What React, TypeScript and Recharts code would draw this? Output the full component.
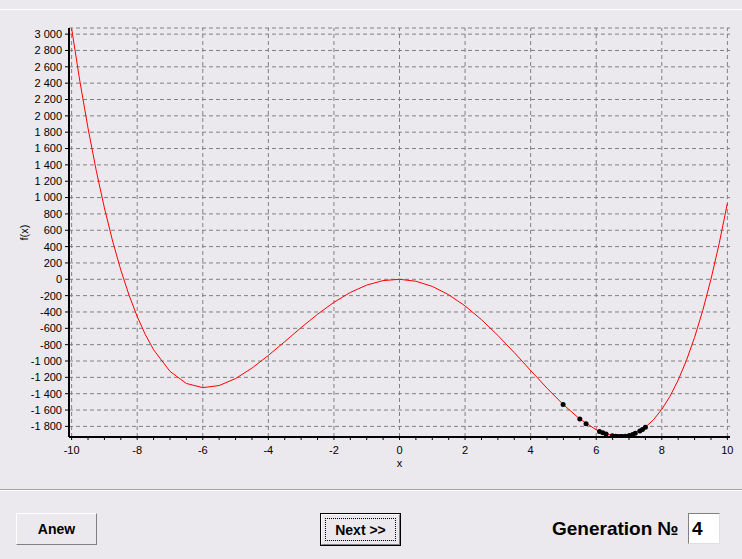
import React from 'react';
import { ComposedChart, Line, Scatter, XAxis, YAxis, CartesianGrid, ReferenceLine, Label } from 'recharts';

const FONT = '"Liberation Sans", Arial, sans-serif';
const BG = '#ECE9EE';

// curve f(x)
const curveX = [-10, -9.75, -9.5, -9.25, -9, -8.75, -8.5, -8.25, -8, -7.75, -7.5, -7, -6.5, -6, -5.5, -5, -4.5, -4, -3.5, -3, -2.5, -2, -1.5, -1, -0.5, 0, 0.5, 1, 1.5, 2, 2.5, 3, 3.5, 4, 4.5, 5, 5.5, 6, 6.5, 7, 7.5, 7.75, 8, 8.25, 8.5, 8.75, 9, 9.25, 9.5, 9.75, 10];
const curveF = [3070, 2427, 1849, 1332, 873, 468, 114, -193, -456, -678, -862, -1127, -1275, -1326, -1300, -1215, -1087, -932, -763, -591, -428, -282, -161, -71, -16, 0, -24, -87, -189, -326, -494, -687, -897, -1116, -1333, -1535, -1710, -1842, -1915, -1911, -1810, -1717, -1592, -1432, -1234, -994, -711, -380, 1, 437, 930];

// population points (generation 4)
const dotX = [4.99, 5.5, 5.69, 6.1, 6.2, 6.3, 6.49, 6.59, 6.66, 6.74, 6.8, 6.89, 7.01, 7.11, 7.19, 7.33, 7.41, 7.5];
const dotF = [-1532, -1710, -1769, -1862, -1879, -1894, -1914, -1920, -1923, -1924, -1923, -1920, -1911, -1899, -1883, -1856, -1837, -1810];

const xMajorTicks = [-10, -8, -6, -4, -2, 0, 2, 4, 6, 8, 10];
const xMinorTicks = [-10, -9.5, -9, -8.5, -8, -7.5, -7, -6.5, -6, -5.5, -5, -4.5, -4, -3.5, -3, -2.5, -2, -1.5, -1, -0.5, 0, 0.5, 1, 1.5, 2, 2.5, 3, 3.5, 4, 4.5, 5, 5.5, 6, 6.5, 7, 7.5, 8, 8.5, 9, 9.5, 10];
const yTicks = [-1800, -1600, -1400, -1200, -1000, -800, -600, -400, -200, 0, 200, 400, 600, 800, 1000, 1200, 1400, 1600, 1800, 2000, 2200, 2400, 2600, 2800, 3000];

const curveData = curveX.map((x, i) => ({ x, f: curveF[i] }));
const dotData = dotX.map((x, i) => ({ x, f: dotF[i] }));

const fmt = (v: number) => {
  const s = Math.abs(v).toString();
  const body = s.length > 3 ? s.slice(0, s.length - 3) + ' ' + s.slice(-3) : s;
  return (v < 0 ? '-' : '') + body;
};

const XTick = (props: any) => {
  const { x, y, payload } = props;
  if (!xMajorTicks.includes(payload.value)) return <g />;
  return (
    <text x={x} y={y} dy="0.71em" textAnchor="middle" fontSize={11} fill="#000" fontFamily={FONT}>
      {payload.value}
    </text>
  );
};

const YLabel = (props: any) => {
  const vb = props.viewBox;
  const cx = vb.x + 15;
  const cy = vb.y + vb.height / 2;
  return (
    <text x={cx} y={cy} transform={`rotate(-90 ${cx} ${cy})`} textAnchor="middle" dominantBaseline="central" fontSize={11} fill="#000" fontFamily={FONT}>
      f(x)
    </text>
  );
};

const XLabel = (props: any) => {
  const vb = props.viewBox;
  return (
    <text x={vb.x + vb.width / 2} y={vb.y + 30} textAnchor="middle" fontSize={11} fill="#000" fontFamily={FONT}>
      x
    </text>
  );
};

const Dot = (props: any) => <circle cx={props.cx} cy={props.cy} r={2.5} fill="#000" />;

const raised = { border: '1px solid', borderColor: '#FFFFFF #808080 #808080 #FFFFFF', boxSizing: 'border-box' as const };

export default function App() {
  return (
    <div style={{ position: 'fixed', left: 0, top: 0, width: 742, height: 559, background: BG, overflow: 'hidden', fontFamily: FONT }}>
      <div style={{ position: 'absolute', left: 0, top: 9, width: 742, height: 1, background: '#FFFFFF' }} />

      <div style={{ position: 'absolute', left: 0, top: 0 }}>
        <ComposedChart width={742} height={480} margin={{ top: 28, right: 12, bottom: 13, left: 9 }}>
          <CartesianGrid vertical={false} stroke="#808080" strokeDasharray="4 3" />
          {xMajorTicks.map((v) => (
            <ReferenceLine key={v} x={v} stroke="#808080" strokeDasharray="4 3" />
          ))}
          <XAxis
            dataKey="x"
            type="number"
            domain={[-10.08, 10.08]}
            ticks={xMinorTicks}
            interval={0}
            allowDataOverflow
            height={30}
            tickSize={3}
            tickMargin={6}
            tick={XTick}
            tickLine={{ stroke: '#000' }}
            axisLine={{ stroke: '#000', strokeWidth: 2 }}
          >
            <Label content={XLabel} />
          </XAxis>
          <XAxis xAxisId="top" orientation="top" type="number" domain={[-10.08, 10.08]} height={0} tick={false} tickLine={false} axisLine={{ stroke: '#000' }} />
          <YAxis
            type="number"
            domain={[-1930, 3075]}
            ticks={yTicks}
            interval={0}
            allowDataOverflow
            width={60}
            tickSize={4}
            tickMargin={3}
            tickFormatter={fmt}
            tick={{ fill: '#000', fontSize: 11, fontFamily: FONT }}
            tickLine={{ stroke: '#000' }}
            axisLine={{ stroke: '#000', strokeWidth: 2 }}
          >
            <Label content={YLabel} />
          </YAxis>
          <YAxis yAxisId="right" orientation="right" type="number" domain={[-1930, 3075]} width={0} tick={false} tickLine={false} axisLine={{ stroke: '#000' }} />
          <Line data={curveData} dataKey="f" type="linear" stroke="#FF0000" strokeWidth={1} dot={false} isAnimationActive={false} />
          <Scatter data={dotData} dataKey="f" shape={Dot} isAnimationActive={false} />
        </ComposedChart>
      </div>

      <div style={{ position: 'absolute', left: 0, top: 489, width: 742, height: 1, background: '#A5A5A5' }} />
      <div style={{ position: 'absolute', left: 0, top: 490, width: 742, height: 1, background: '#FFFFFF' }} />

      <div style={{ ...raised, position: 'absolute', left: 16, top: 513, width: 81, height: 32, display: 'flex', alignItems: 'center', justifyContent: 'center', fontSize: 14, fontWeight: 'bold', color: '#000' }}>
        Anew
      </div>

      <div style={{ position: 'absolute', left: 320, top: 513, width: 81, height: 33, border: '1px solid #000', boxSizing: 'border-box' }}>
        <div style={{ ...raised, width: '100%', height: '100%', position: 'relative' }}>
          <div style={{ position: 'absolute', left: 3, top: 3, right: 3, bottom: 3, border: '1px dotted #000', display: 'flex', alignItems: 'center', justifyContent: 'center', fontSize: 14, fontWeight: 'bold', color: '#000' }}>
            Next &gt;&gt;
          </div>
        </div>
      </div>

      <div style={{ position: 'absolute', left: 552, top: 517, fontSize: 19, fontWeight: 'bold', color: '#000', lineHeight: '24px', whiteSpace: 'nowrap' }}>
        Generation №
      </div>
      <div style={{ position: 'absolute', left: 688, top: 513, width: 32, height: 31, background: '#FFFFFF', border: '1px solid', borderColor: '#808080 #E0E0E0 #E0E0E0 #808080', boxSizing: 'border-box', fontSize: 19, fontWeight: 'bold', lineHeight: '29px', paddingLeft: 3, color: '#000' }}>
        4
      </div>
    </div>
  );
}
